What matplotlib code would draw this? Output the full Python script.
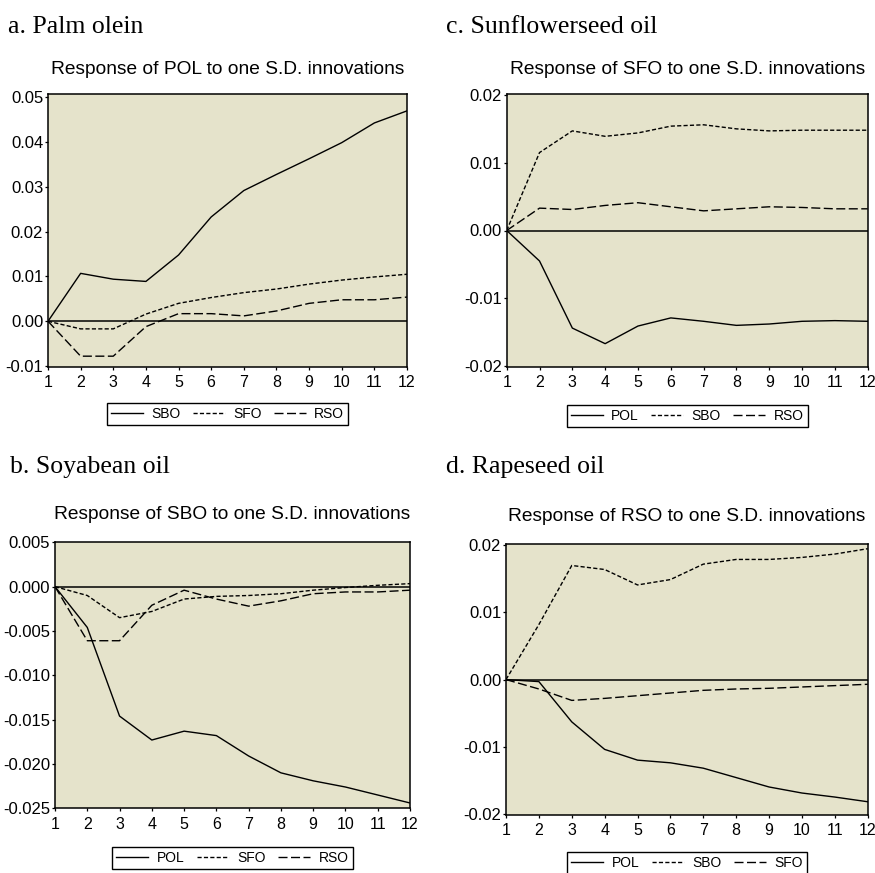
import matplotlib
matplotlib.use("Agg")
import matplotlib.pyplot as plt
from matplotlib.ticker import FixedLocator, FuncFormatter

# ---- data ----
periods = list(range(1, 13))

a_SBO = [0, 0.0107, 0.0094, 0.0089, 0.0148, 0.0233, 0.0292, 0.0328, 0.0363, 0.0399, 0.0443, 0.0470]
a_SFO = [0, -0.0017, -0.0017, 0.0016, 0.0040, 0.0053, 0.0064, 0.0072, 0.0083, 0.0092, 0.0099, 0.0105]
a_RSO = [0, -0.0078, -0.0078, -0.0012, 0.0017, 0.0017, 0.0012, 0.0023, 0.0040, 0.0048, 0.0048, 0.0054]

c_POL = [0, -0.0045, -0.0144, -0.0167, -0.0141, -0.0129, -0.0134, -0.0140, -0.0138, -0.0134, -0.0133, -0.0134]
c_SBO = [0, 0.0115, 0.0147, 0.0139, 0.0144, 0.0154, 0.0156, 0.0150, 0.0147, 0.0148, 0.0148, 0.0148]
c_RSO = [0, 0.0033, 0.0031, 0.0037, 0.0041, 0.0035, 0.0029, 0.0032, 0.0035, 0.0034, 0.0032, 0.0032]

b_POL = [0, -0.0046, -0.0146, -0.0173, -0.0163, -0.0168, -0.0191, -0.0210, -0.0219, -0.0226, -0.0235, -0.0244]
b_SFO = [0, -0.0010, -0.0035, -0.0028, -0.0014, -0.0011, -0.0010, -0.0008, -0.0004, -0.0001, 0.00015, 0.00034]
b_RSO = [0, -0.0061, -0.0061, -0.0021, -0.0004, -0.0014, -0.0022, -0.0016, -0.0008, -0.0006, -0.0006, -0.0004]

d_POL = [0, -0.0003, -0.0063, -0.0104, -0.0120, -0.0124, -0.0132, -0.0146, -0.0160, -0.0169, -0.0175, -0.0182]
d_SBO = [0, 0.0082, 0.0170, 0.0164, 0.0141, 0.0149, 0.0172, 0.0179, 0.0179, 0.0182, 0.0187, 0.0195]
d_SFO = [0, -0.0014, -0.0031, -0.0028, -0.0024, -0.0020, -0.0016, -0.0014, -0.0013, -0.0011, -0.0009, -0.0007]

a_ticks = [-0.01, 0.00, 0.01, 0.02, 0.03, 0.04, 0.05]
b_ticks = [-0.025, -0.020, -0.015, -0.010, -0.005, 0.000, 0.005]
cd_ticks = [-0.02, -0.01, 0.00, 0.01, 0.02]

W, H = 875, 873
fig = plt.figure(figsize=(W / 100, H / 100), dpi=100)
fig.patch.set_facecolor("white")

BG = "#E5E3CB"
SANS = "Liberation Sans"
SERIF = "Liberation Serif"

styles = [
    dict(color="black", lw=1.0, ls="-"),
    dict(color="black", lw=1.0, ls=(0, (3, 1.6))),
    dict(color="black", lw=1.0, ls=(0, (6.5, 2.5))),
]


def make_panel(rect_px, ylim, yticks, ndec, series, names, title, label,
               label_xy, legend_top, tpad):
    l, r, t, b = rect_px
    ax = fig.add_axes([l / W, 1 - b / H, (r - l) / W, (b - t) / H])
    ax.set_facecolor(BG)
    ax.set_xlim(1, 12)
    ax.set_ylim(*ylim)
    ax.axhline(0, color="black", lw=1.1, zorder=2)
    handles = []
    for s, st in zip(series, styles):
        h, = ax.plot(periods, s, zorder=3, **st)
        handles.append(h)
    for sp in ax.spines.values():
        sp.set_linewidth(1.1)
        sp.set_color("black")
    ax.xaxis.set_major_locator(FixedLocator(periods))
    ax.set_xticklabels([str(p) for p in periods], fontsize=11.5, family=SANS)
    ax.yaxis.set_major_locator(FixedLocator(yticks))
    ax.yaxis.set_major_formatter(FuncFormatter(lambda v, p: f"{v:.{ndec}f}" if abs(v) > 1e-12 else f"{0:.{ndec}f}"))
    for lab in ax.get_yticklabels():
        lab.set_fontsize(12)
        lab.set_family(SANS)
    ax.tick_params(axis="y", direction="out", length=2.5, width=0.9, pad=1, labelsize=12)
    ax.tick_params(axis="x", direction="out", length=2.5, width=0.9, pad=3.5, labelsize=11.5)
    ax.tick_params(top=False, right=False)
    ax.set_title(title, fontsize=13.8, family=SANS, pad=tpad)
    fig.text(label_xy[0] / W, 1 - label_xy[1] / H, label, family=SERIF,
             fontsize=18.5, ha="left", va="baseline")
    cx = (l + r) / 2
    leg = ax.legend(handles, names, loc="upper center", ncol=3,
                    bbox_to_anchor=(cx / W, 1 - legend_top / H),
                    bbox_transform=fig.transFigure,
                    prop=dict(family=SANS, size=10), frameon=True,
                    fancybox=False, framealpha=1, edgecolor="black",
                    handlelength=2.3, handletextpad=0.6, columnspacing=0.9,
                    borderpad=0.3, borderaxespad=0)
    leg.get_frame().set_linewidth(1.0)
    return ax


make_panel((48, 407, 94.3, 366.7), (-0.01015, 0.0507), a_ticks, 2,
           [a_SBO, a_SFO, a_RSO], ["SBO", "SFO", "RSO"],
           "Response of POL to one S.D. innovations", "a. Palm olein",
           (8, 33), 403, 14.5)
make_panel((506.7, 867.7, 94.3, 366.7), (-0.0201, 0.0201), cd_ticks, 2,
           [c_POL, c_SBO, c_RSO], ["POL", "SBO", "RSO"],
           "Response of SFO to one S.D. innovations", "c. Sunflowerseed oil",
           (446, 33), 405, 14.5)
make_panel((55, 410, 542.3, 808.3), (-0.025, 0.005), b_ticks, 3,
           [b_POL, b_SFO, b_RSO], ["POL", "SFO", "RSO"],
           "Response of SBO to one S.D. innovations", "b. Soyabean oil",
           (10, 473), 847, 16.5)
make_panel((506, 867.7, 544, 814.5), (-0.0201, 0.0202), cd_ticks, 2,
           [d_POL, d_SBO, d_SFO], ["POL", "SBO", "SFO"],
           "Response of RSO to one S.D. innovations", "d. Rapeseed oil",
           (446, 473), 852, 16.5)

fig.savefig("out.png", dpi=100)
